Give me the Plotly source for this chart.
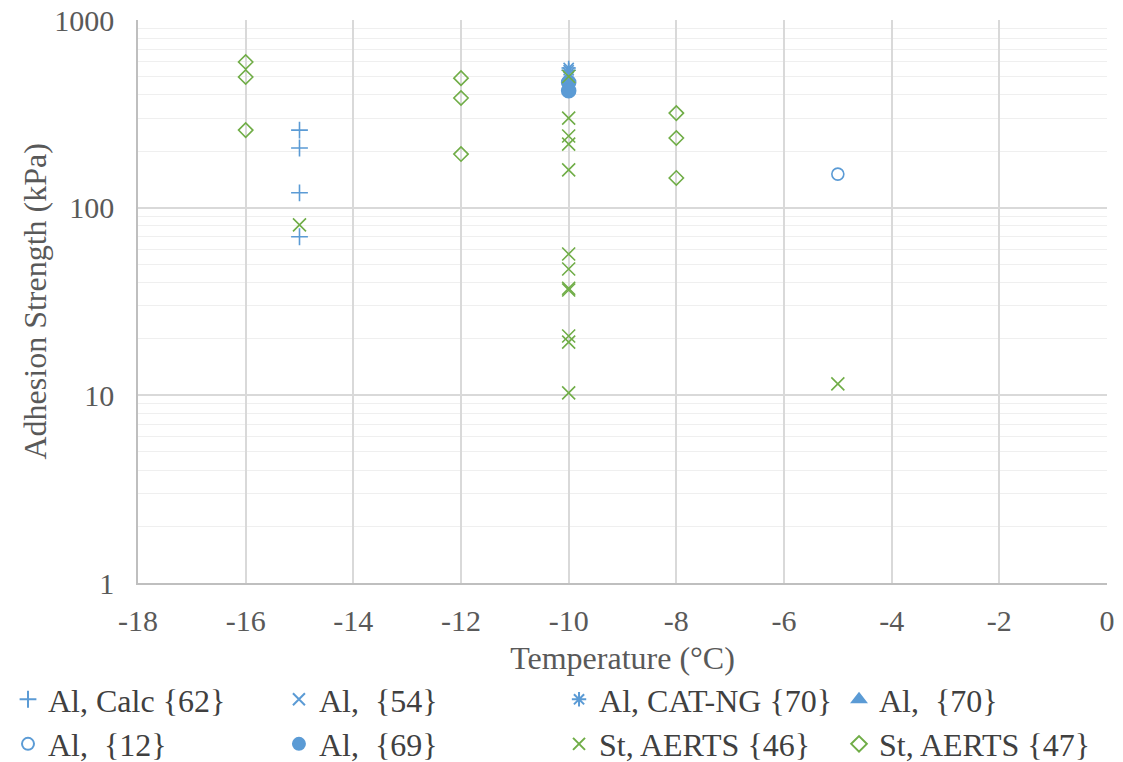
import plotly.graph_objects as go

BLUE = "#5B9BD5"
GREEN = "#70AD47"

# Data (temperature °C, adhesion strength kPa)
calc62_x = [-15, -15, -15, -15]
calc62_y = [259, 208, 120, 70]

al54_x = [-10]
al54_y = [520]

catng70_x = [-10, -10]
catng70_y = [555, 540]

al70_x = [-10]
al70_y = [490]

al12_x = [-5]
al12_y = [151]

al69_x = [-10, -10]
al69_y = [465, 420]

aerts46_x = [-15, -10, -10, -10, -10, -10, -10, -10, -10, -10, -10, -10, -10, -5]
aerts46_y = [81, 500, 300, 241, 218, 159, 56.6, 47.1, 36.4, 37.2, 20.7, 19.2, 10.3, 11.5]

aerts47_x = [-16, -16, -16, -12, -12, -12, -8, -8, -8]
aerts47_y = [597, 497, 259, 490, 384, 193, 319, 235, 144]

x_ticks = [-18, -16, -14, -12, -10, -8, -6, -4, -2, 0]
x_tick_labels = ["-18", "-16", "-14", "-12", "-10", "-8", "-6", "-4", "-2", "0"]
y_ticks = [1, 10, 100, 1000]
y_tick_labels = ["1", "10", "100", "1000"]

x_title = "Temperature (°C)"
y_title = "Adhesion Strength (kPa)"

# (name, x, y, symbol, colour, size, legend column)
series = [
    ("Al, Calc {62}", calc62_x, calc62_y, "cross-thin-open", BLUE, 12, "legend"),
    ("Al,  {54}", al54_x, al54_y, "x-thin-open", BLUE, 12, "legend2"),
    ("Al, CAT-NG {70}", catng70_x, catng70_y, "asterisk-open", BLUE, 12, "legend3"),
    ("Al,  {70}", al70_x, al70_y, "triangle-up", BLUE, 12, "legend4"),
    ("Al,  {12}", al12_x, al12_y, "circle-open", BLUE, 12, "legend"),
    ("Al,  {69}", al69_x, al69_y, "circle", BLUE, 14, "legend2"),
    ("St, AERTS {46}", aerts46_x, aerts46_y, "x-thin-open", GREEN, 13, "legend3"),
    ("St, AERTS {47}", aerts47_x, aerts47_y, "diamond-open", GREEN, 11, "legend4"),
]

fig = go.Figure()
for name, xs, ys, sym, col, sz, leg in series:
    fig.add_trace(go.Scatter(
        x=xs, y=ys, mode="markers", name=name, legend=leg,
        marker=dict(symbol=sym, size=sz, color=col, line=dict(color=col, width=1.6)),
    ))

FONT = "Liberation Serif, Times New Roman, serif"
FS_TICK = 30
FS_TEXT = 32


def legend_at(xpos):
    return dict(
        orientation="v", xref="container", yref="container",
        x=xpos, xanchor="left", y=0.1194, yanchor="top",
        font=dict(family=FONT, size=FS_TEXT, color="#404040"),
        itemsizing="constant", itemwidth=30, tracegroupgap=0,
        bgcolor="rgba(0,0,0,0)",
    )


fig.update_layout(
    width=1115, height=754,
    margin=dict(l=130, r=16, t=12, b=179, autoexpand=False),
    plot_bgcolor="white", paper_bgcolor="white",
    font=dict(family=FONT, size=FS_TEXT, color="#595959"),
    showlegend=True,
    legend=legend_at(0.0),
    legend2=legend_at(0.2430),
    legend3=legend_at(0.4942),
    legend4=legend_at(0.7453),
    xaxis=dict(
        range=[-18, 0], tickvals=x_ticks, ticktext=x_tick_labels,
        showgrid=True, gridcolor="#d9d9d9", gridwidth=1.5,
        zeroline=False, showline=True, linecolor="#bfbfbf", linewidth=1.5,
        ticks="", tickfont=dict(size=FS_TICK, color="#595959"), ticklabelstandoff=10,
        title=dict(text=x_title, font=dict(size=FS_TEXT, color="#595959"), standoff=11),
    ),
    yaxis=dict(
        type="log", range=[0, 3], tickvals=y_ticks, ticktext=y_tick_labels,
        showgrid=True, gridcolor="#d9d9d9", gridwidth=1.5,
        minor=dict(showgrid=True, gridcolor="#efefef", gridwidth=1, dtick="D1", ticks=""),
        zeroline=False, showline=True, linecolor="#bfbfbf", linewidth=1.5,
        ticks="", tickfont=dict(size=FS_TICK, color="#595959"), ticklabelstandoff=16,
        ticklabeloverflow="allow",
    ),
    annotations=[dict(
        text=y_title, textangle=-90, showarrow=False,
        xref="paper", yref="paper", x=-0.1063, y=0.5,
        xanchor="center", yanchor="middle",
        font=dict(family=FONT, size=FS_TEXT, color="#595959"),
    )],
)
fig.write_html("out.html")
